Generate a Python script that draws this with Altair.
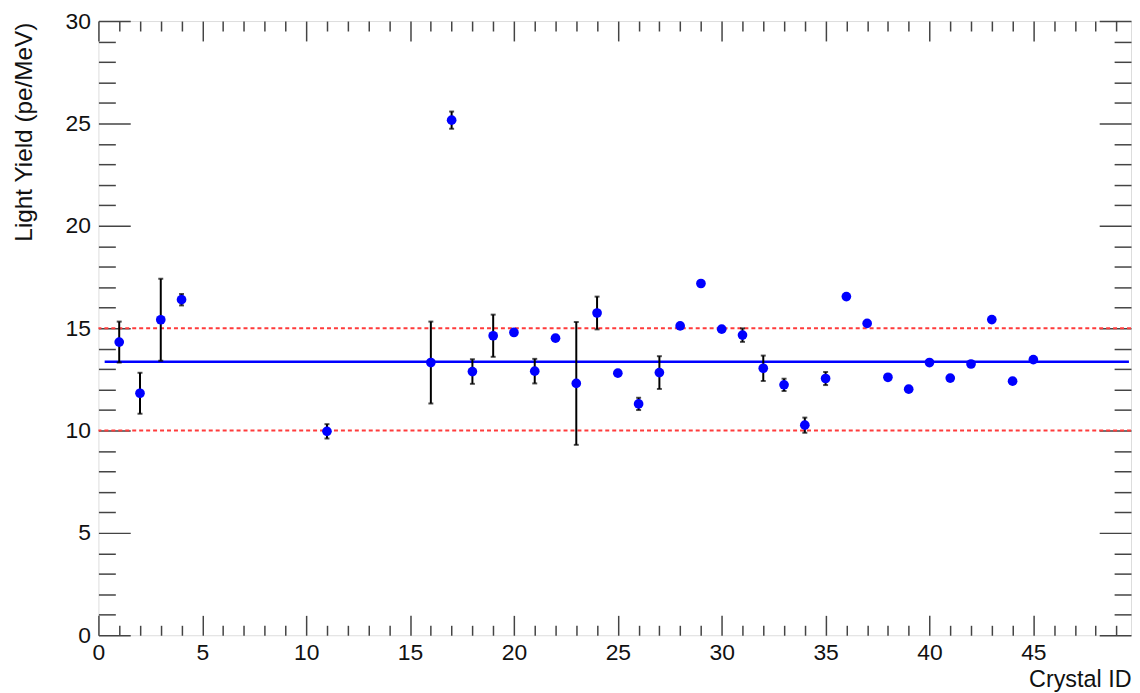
import altair as alt
import pandas as pd

# ---- data ----
crystal_id = [1, 2, 3, 4, 11, 16, 17, 18, 19, 20, 21, 22, 23, 24, 25, 26, 27, 28,
              29, 30, 31, 32, 33, 34, 35, 36, 37, 38, 39, 40, 41, 42, 43, 44, 45]
light_yield = [14.32, 11.82, 15.41, 16.39, 9.96, 13.32, 25.16, 12.88, 14.63, 14.79,
               12.9, 14.51, 12.3, 15.74, 12.8, 11.3, 12.83, 15.11, 17.18, 14.95,
               14.66, 13.04, 12.23, 10.26, 12.54, 16.54, 15.23, 12.6, 12.02, 13.32,
               12.56, 13.25, 15.42, 12.41, 13.46]
light_yield_err = [1.0, 1.0, 2.0, 0.28, 0.35, 2.0, 0.42, 0.6, 1.03, 0.1,
                   0.6, 0.1, 3.0, 0.8, 0.1, 0.3, 0.8, 0.1, 0.1, 0.1,
                   0.33, 0.62, 0.3, 0.37, 0.32, 0.1, 0.1, 0.1, 0.1, 0.1,
                   0.1, 0.1, 0.1, 0.1, 0.1]

limit_lines = [10, 15]
fit_value = 13.36
fit_range = [0.3, 49.6]

x_major = [0, 5, 10, 15, 20, 25, 30, 35, 40, 45]
x_minor = [i for i in range(1, 50) if i % 5 != 0]
y_major = [0, 5, 10, 15, 20, 25, 30]
y_minor = [i for i in range(1, 30) if i % 5 != 0]

# ---- tables ----
df = pd.DataFrame({"id": crystal_id, "ly": light_yield, "err": light_yield_err})
df["lo"] = df["ly"] - df["err"]
df["hi"] = df["ly"] + df["err"]
lines_df = pd.DataFrame({"v": limit_lines})
fit_df = pd.DataFrame({"x1": [fit_range[0]], "x2": [fit_range[1]], "y": [fit_value]})

FONT = "Liberation Sans"
TICK_COLOR = "#444444"
W, H = 1039, 618

xs = alt.Scale(domain=[0, 49.7], nice=False, zero=False)
ys = alt.Scale(domain=[0, 30], nice=False, zero=False)


def tick_axis(orient, values, size):
    return alt.Axis(orient=orient, values=values, offset=-size, tickSize=size,
                    labels=False, domain=False, grid=False, title=None,
                    tickColor=TICK_COLOR, tickWidth=1.5)


def ghost(xaxis, yaxis):
    return alt.Chart(df).mark_point(opacity=0).encode(
        x=alt.X("id:Q", scale=xs, axis=xaxis),
        y=alt.Y("ly:Q", scale=ys, axis=yaxis),
    )


label_layer = ghost(
    alt.Axis(orient="bottom", values=x_major, ticks=False, domain=False, grid=False,
             labelFontSize=23, labelFont=FONT, labelColor="#111", labelPadding=6,
             labelFlush=False, labelOverlap=False,
             title="Crystal ID", titleFont=FONT, titleFontSize=23.5, titleFontWeight="normal",
             titleColor="#111", titleX=W, titleY=52, titleAlign="right",
             titleBaseline="alphabetic", titleAnchor="end"),
    alt.Axis(orient="left", values=y_major, ticks=False, domain=False, grid=False,
             labelFontSize=23, labelFont=FONT, labelColor="#111", labelPadding=8,
             labelFlush=False, labelOverlap=False,
             title="Light Yield (pe/MeV)", titleFont=FONT, titleFontSize=24.5,
             titleFontWeight="normal", titleColor="#111", titleAngle=270,
             titleX=-74, titleY=1, titleAlign="right", titleBaseline="middle",
             titleAnchor="end"),
)
minor_in = ghost(tick_axis("bottom", x_minor, 10), tick_axis("left", y_minor, 17))
major_in = ghost(tick_axis("bottom", x_major, 20), tick_axis("left", y_major, 32))
minor_out = ghost(tick_axis("top", x_minor, 10), tick_axis("right", y_minor, 17))
major_out = ghost(tick_axis("top", x_major, 20), tick_axis("right", y_major, 32))

limits = alt.Chart(lines_df).mark_rule(color="#ff3b3b", strokeDash=[4, 3], strokeWidth=2).encode(
    y=alt.Y("v:Q", scale=ys, axis=None)
)
fit = alt.Chart(fit_df).mark_rule(color="#0000ff", strokeWidth=2.5).encode(
    x=alt.X("x1:Q", scale=xs, axis=None), x2="x2:Q",
    y=alt.Y("y:Q", scale=ys, axis=None),
)
err_bar = alt.Chart(df).mark_rule(color="black", strokeWidth=2).encode(
    x=alt.X("id:Q", scale=xs, axis=None),
    y=alt.Y("lo:Q", scale=ys, axis=None), y2="hi:Q",
)
cap_lo = alt.Chart(df).mark_tick(orient="horizontal", size=5, thickness=2, color="black").encode(
    x=alt.X("id:Q", scale=xs, axis=None), y=alt.Y("lo:Q", scale=ys, axis=None)
)
cap_hi = alt.Chart(df).mark_tick(orient="horizontal", size=5, thickness=2, color="black").encode(
    x=alt.X("id:Q", scale=xs, axis=None), y=alt.Y("hi:Q", scale=ys, axis=None)
)
points = alt.Chart(df).mark_circle(size=95, color="#0000ff", opacity=1).encode(
    x=alt.X("id:Q", scale=xs, axis=None), y=alt.Y("ly:Q", scale=ys, axis=None)
)

chart = alt.layer(
    label_layer, minor_in, major_in, minor_out, major_out,
    limits, fit, err_bar, cap_lo, cap_hi, points,
).resolve_axis(x="independent", y="independent").properties(
    width=W, height=H,
    autosize=alt.AutoSizeParams(type="none"),
    padding={"left": 91, "top": 11, "right": 1, "bottom": 60},
).configure_view(stroke="#333333", strokeWidth=1.5).configure(background="white")

chart.save("out.html", embed_options={"renderer": "svg", "actions": False})
